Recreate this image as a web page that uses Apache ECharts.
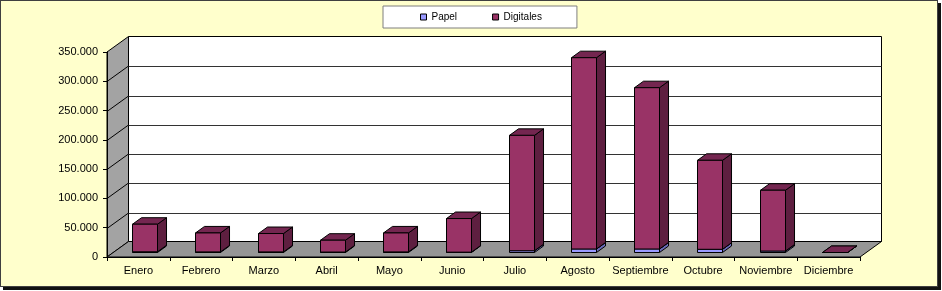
<!DOCTYPE html>
<html>
<head>
<meta charset="utf-8">
<script src="https://cdn.jsdelivr.net/npm/echarts@6/dist/echarts.min.js"></script>
<style>
  html, body { margin: 0; padding: 0; background: #ffffff; }
  #frame { position: absolute; left: 0; top: 0; width: 938px; height: 287px; box-sizing: border-box;
           border: 1px solid #404040; background: #FFFFCC; box-shadow: 3px 3px 0 #111; }
  #chart { position: absolute; left: 0; top: 0; width: 942px; height: 291px; }
</style>
</head>
<body>
<div id="frame"></div>
<div id="chart"></div>
<script>
const months = ['Enero','Febrero','Marzo','Abril','Mayo','Junio','Julio','Agosto','Septiembre','Octubre','Noviembre','Diciembre'];
const papel = [1200, 1000, 1000, 800, 1000, 600, 3000, 6000, 6000, 5500, 2500, 0];
const digitales = [47100, 32400, 31400, 20200, 32400, 57400, 197000, 326600, 275400, 151900, 103800, 0];
const yTicks = [0, 50000, 100000, 150000, 200000, 250000, 300000, 350000];
const seriesNames = ['Papel', 'Digitales'];

const DX = 21.5, DY = -15.5;   // full depth offset of the 3D box
const F0 = 0.29, F1 = 0.71;    // bar depth start/end (fraction)
const BW = 0.4;                // bar width fraction of band
const yMax = yTicks[yTicks.length - 1];

function fmt(v) { return String(v).replace(/\B(?=(\d{3})+(?!\d))/g, '.'); }

function renderWalls(params, api) {
  const cs = params.coordSys;
  const x0 = cs.x, x1 = cs.x + cs.width;
  const yb = api.coord([0, 0])[1];
  const yt = api.coord([0, yMax])[1];
  const children = [];
  children.push({ type: 'polygon', shape: { points: [[x0, yt], [x0 + DX, yt + DY], [x0 + DX, yb + DY], [x0, yb]] },
    style: { fill: '#A3A3A3', stroke: '#000', lineWidth: 1 } });
  children.push({ type: 'rect', shape: { x: x0 + DX, y: yt + DY, width: x1 - x0, height: yb - yt },
    style: { fill: '#ffffff', stroke: '#000', lineWidth: 1 } });
  children.push({ type: 'polygon', shape: { points: [[x0, yb], [x0 + DX, yb + DY], [x1 + DX, yb + DY], [x1, yb]] },
    style: { fill: '#969696', stroke: '#000', lineWidth: 1 } });
  for (let k = 1; k < yTicks.length - 1; k++) {
    const yv = Math.round(api.coord([0, yTicks[k]])[1]) + 0.5;
    children.push({ type: 'line', shape: { x1: x0, y1: yv, x2: x0 + DX, y2: yv + DY },
      style: { stroke: '#000', lineWidth: 1 } });
    children.push({ type: 'line', shape: { x1: x0 + DX, y1: Math.round(yv + DY) + 0.5, x2: x1 + DX, y2: Math.round(yv + DY) + 0.5 },
      style: { stroke: '#333', lineWidth: 1 } });
  }
  return { type: 'group', children: children };
}

function makeBarRenderer(front, top, side) {
  return function (params, api) {
    const i = api.value(0), v0 = api.value(1), v1 = api.value(2);
    const cx = api.coord([i, 0])[0];
    const bw = api.size([1, 0])[0];
    const w = bw * BW;
    const fx = DX * F0, fy = DY * F0;
    const dx = DX * (F1 - F0), dy = DY * (F1 - F0);
    const xl = Math.round(cx - w / 2 + fx) + 0.5, xr = Math.round(cx + w / 2 + fx) + 0.5;
    const y0 = api.coord([i, v0])[1] + fy;
    const y1 = api.coord([i, v1])[1] + fy;
    const st = { stroke: '#000', lineWidth: 1, lineJoin: 'round' };
    return { type: 'group', children: [
      { type: 'polygon', shape: { points: [[xr, y0], [xr + dx, y0 + dy], [xr + dx, y1 + dy], [xr, y1]] },
        style: Object.assign({ fill: side }, st) },
      { type: 'polygon', shape: { points: [[xl, y1], [xl + dx, y1 + dy], [xr + dx, y1 + dy], [xr, y1]] },
        style: Object.assign({ fill: top }, st) },
      { type: 'rect', shape: { x: xl, y: y1, width: xr - xl, height: y0 - y1 },
        style: Object.assign({ fill: front }, st) }
    ] };
  };
}

const papelData = months.map((m, i) => [i, 0, papel[i]]);
const digData = months.map((m, i) => [i, papel[i], papel[i] + digitales[i]]);

const chart = echarts.init(document.getElementById('chart'), null, { renderer: 'canvas' });
chart.setOption({
  animation: false,
  backgroundColor: 'transparent',
  textStyle: { fontFamily: 'Liberation Sans, Arial, sans-serif' },
  legend: {
    selectedMode: false,
    left: 383, top: 6,
    padding: [6, 35, 6, 37],
    itemGap: 35,
    itemWidth: 6, itemHeight: 6,
    backgroundColor: '#ffffff',
    borderColor: '#7f7f7f', borderWidth: 1,
    textStyle: { fontSize: 10, color: '#000', fontFamily: 'Liberation Sans, Arial, sans-serif' },
    data: [
      { name: seriesNames[0], icon: 'rect', itemStyle: { color: '#9999FF', borderColor: '#000', borderWidth: 1 } },
      { name: seriesNames[1], icon: 'rect', itemStyle: { color: '#993366', borderColor: '#000', borderWidth: 1 } }
    ]
  },
  grid: { left: 107, top: 52, width: 753, height: 205, containLabel: false },
  xAxis: {
    type: 'category', data: months, z: 5,
    axisLine: { show: true, lineStyle: { color: '#000', width: 1 } },
    axisTick: { show: true, length: 4, interval: 0, lineStyle: { color: '#000' } },
    axisLabel: { interval: 0, fontSize: 11, color: '#000', margin: 8 },
    splitLine: { show: false }
  },
  yAxis: {
    type: 'value', min: 0, max: yMax, interval: 50000, z: 5,
    axisLine: { show: true, lineStyle: { color: '#000', width: 1 } },
    axisTick: { show: true, length: 4, lineStyle: { color: '#000' } },
    axisLabel: { fontSize: 11, color: '#000', margin: 9, formatter: fmt },
    splitLine: { show: false }
  },
  series: [
    { type: 'custom', name: '_walls', clip: false, silent: true, z: 1, data: [[0, 0]], renderItem: renderWalls },
    { type: 'custom', name: seriesNames[0], clip: false, z: 3, itemStyle: { color: '#9999FF' },
      encode: { x: 0, y: [1, 2] }, data: papelData, renderItem: makeBarRenderer('#9999FF', '#7B7BD0', '#6A6AB8') },
    { type: 'custom', name: seriesNames[1], clip: false, z: 3, itemStyle: { color: '#993366' },
      encode: { x: 0, y: [1, 2] }, data: digData, renderItem: makeBarRenderer('#993366', '#742650', '#5E1F40') }
  ]
});
</script>
</body>
</html>
